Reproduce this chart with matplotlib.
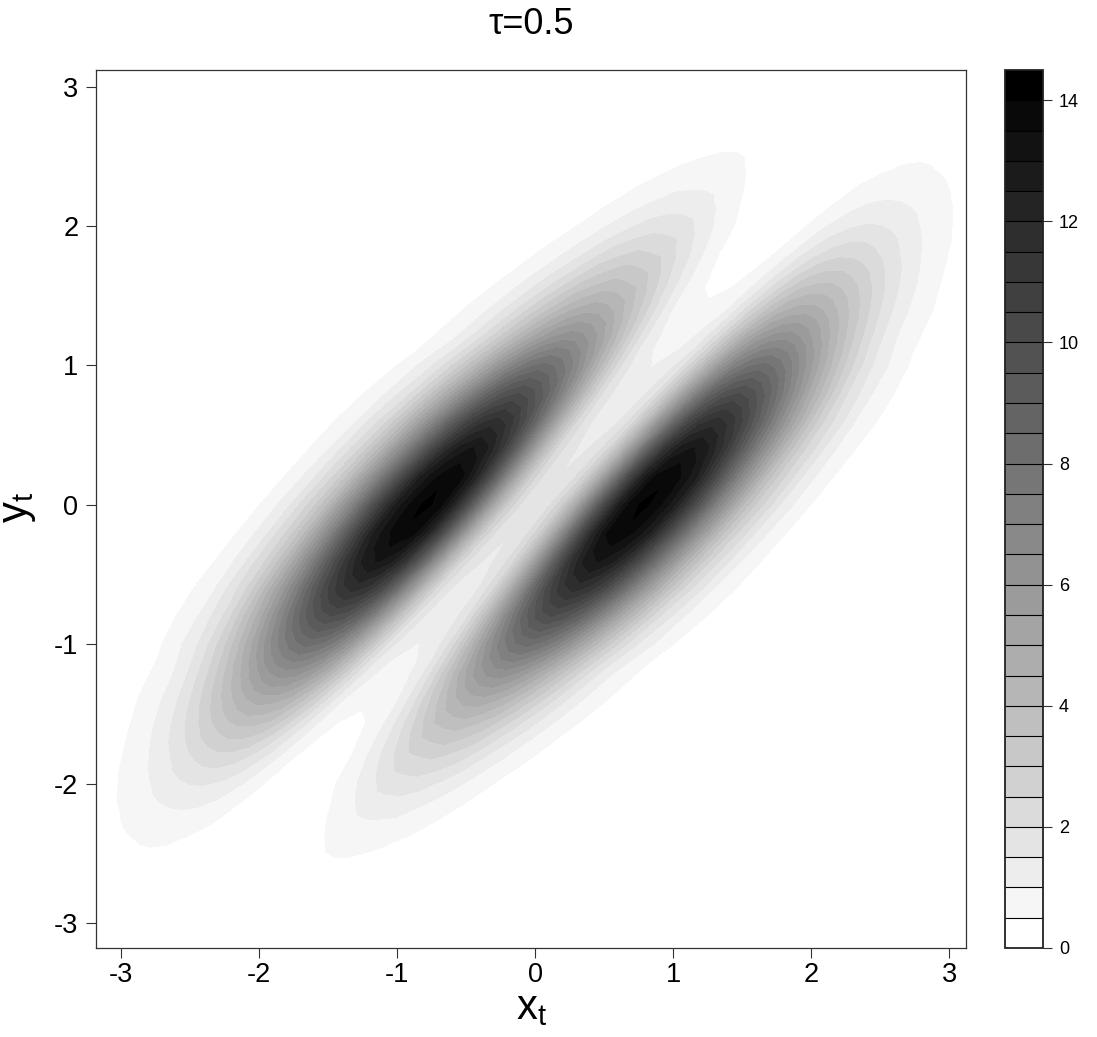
import numpy as np
import matplotlib
matplotlib.use("Agg")
import matplotlib.pyplot as plt

plt.rcParams['font.family'] = ['Liberation Sans', 'DejaVu Sans']
plt.rcParams['mathtext.fontset'] = 'custom'
plt.rcParams['mathtext.rm'] = 'Liberation Sans'
plt.rcParams['mathtext.it'] = 'Liberation Sans'

# Values read along slanted rows: y_rows is the height of a row, offsets is the
# horizontal distance from the valley between the two lobes
y_rows = [-2.8, -2.6, -2.4, -2.2, -2.0, -1.8, -1.6, -1.4, -1.2, -1.0, -0.8, -0.6, -0.4, -0.2, 0.0,
          0.2, 0.4, 0.6, 0.8, 1.0, 1.2, 1.4, 1.6, 1.8, 2.0, 2.2, 2.4, 2.6, 2.8]
offsets = [-2.4, -2.2, -2.0, -1.8, -1.6, -1.5, -1.4, -1.3, -1.2, -1.1, -1.0, -0.9, -0.8, -0.7, -0.6, -0.5,
           -0.4, -0.3, -0.2, -0.1, 0.0, 0.1, 0.2, 0.3, 0.4, 0.5, 0.6, 0.7, 0.8, 0.9, 1.0, 1.1, 1.2, 1.3,
           1.4, 1.5, 1.6, 1.8, 2.0, 2.2, 2.4]
# rows for y = 0 up to 2.8, the picture repeats them turned by 180 degrees below y = 0
upper_rows = [
    [.05, .16, .48, 1.27, 2.9, 4.05, 5.7, 7.3, 9.3, 11.1, 12.7, 13.6, 14.1, 13.9, 12.4, 10.2, 7.6, 5.0, 3.0, 1.9, 1.6,
     1.9, 3.0, 5.0, 7.6, 10.2, 12.4, 13.9, 14.1, 13.6, 12.7, 11.1, 9.3, 7.3, 5.7, 4.05, 2.9, 1.27, .48, .16, .05],
    [.05, .15, .46, 1.22, 2.8, 3.95, 5.5, 7.15, 9.0, 10.85, 12.5, 13.4, 13.9, 13.6, 12.2, 10.0, 7.4, 4.85, 2.85, 1.8, 1.52,
     1.8, 2.85, 4.85, 7.4, 10.0, 12.2, 13.6, 13.9, 13.4, 12.5, 10.85, 9.0, 7.15, 5.5, 3.95, 2.8, 1.22, .46, .15, .05],
    [.04, .14, .43, 1.14, 2.6, 3.7, 5.1, 6.7, 8.4, 10.1, 11.6, 12.65, 13.07, 12.65, 11.4, 9.35, 6.9, 4.5, 2.6, 1.65, 1.4,
     1.65, 2.6, 4.5, 6.9, 9.35, 11.4, 12.65, 13.07, 12.65, 11.6, 10.1, 8.4, 6.7, 5.1, 3.7, 2.6, 1.14, .43, .14, .04],
    [.04, .13, .39, 1.02, 2.3, 3.3, 4.6, 6.0, 7.5, 9.05, 10.4, 11.3, 11.7, 11.3, 10.2, 8.4, 6.2, 4.0, 2.3, 1.5, 1.3,
     1.5, 2.3, 4.0, 6.2, 8.4, 10.2, 11.3, 11.7, 11.3, 10.4, 9.05, 7.5, 6.0, 4.6, 3.3, 2.3, 1.02, .39, .13, .04],
    [.03, .1, .3, .8, 1.86, 2.7, 3.8, 4.95, 6.3, 7.63, 8.8, 9.63, 10.0, 9.68, 8.75, 7.25, 5.4, 3.5, 2.05, 1.35, 1.15,
     1.35, 2.05, 3.5, 5.4, 7.25, 8.75, 9.68, 10.0, 9.63, 8.8, 7.63, 6.3, 4.95, 3.8, 2.7, 1.86, .8, .3, .1, .03],
    [.02, .07, .22, .6, 1.45, 2.1, 2.9, 3.9, 5.0, 6.1, 7.1, 7.8, 8.15, 7.9, 7.2, 6.0, 4.44, 2.9, 1.7, 1.15, .98,
     1.15, 1.7, 2.9, 4.44, 6.0, 7.2, 7.9, 8.15, 7.8, 7.1, 6.1, 5.0, 3.9, 2.9, 2.1, 1.45, .6, .22, .07, .02],
    [.01, .04, .14, .4, .99, 1.46, 2.1, 2.85, 3.7, 4.58, 5.37, 6.0, 6.33, 6.23, 5.7, 4.77, 3.56, 2.3, 1.35, .9, .75,
     .9, 1.35, 2.3, 3.56, 4.77, 5.7, 6.23, 6.33, 6.0, 5.37, 4.58, 3.7, 2.85, 2.1, 1.46, .99, .4, .14, .04, .01],
    [.01, .03, .1, .3, .76, 1.12, 1.6, 2.15, 2.8, 3.45, 4.1, 4.55, 4.8, 4.72, 4.35, 3.6, 2.7, 1.75, 1.0, .65, .55,
     .65, 1.0, 1.75, 2.7, 3.6, 4.33, 4.67, 4.71, 4.45, 3.97, 3.36, 2.7, 2.05, 1.5, 1.05, .69, .27, .09, .03, .01],
    [0, .02, .07, .21, .55, .82, 1.15, 1.6, 2.05, 2.55, 3.05, 3.35, 3.6, 3.5, 3.3, 2.7, 2.0, 1.3, .72, .46, .42,
     .46, .72, 1.28, 2.0, 2.66, 3.2, 3.41, 3.41, 3.18, 2.82, 2.35, 1.87, 1.4, 1.02, .69, .45, .17, .05, .02, 0],
    [0, .01, .04, .13, .36, .55, .78, 1.08, 1.42, 1.8, 2.2, 2.42, 2.6, 2.52, 2.4, 1.95, 1.45, .92, .5, .3, .25,
     .3, .5, .9, 1.42, 1.86, 2.19, 2.35, 2.32, 2.14, 1.87, 1.53, 1.19, .88, .62, .41, .27, .09, .03, .01, 0],
    [0, 0, .02, .07, .22, .34, .5, .72, .95, 1.2, 1.45, 1.65, 1.78, 1.75, 1.65, 1.32, .95, .6, .36, .15, .1,
     .15, .32, .6, .95, 1.25, 1.45, 1.54, 1.51, 1.38, 1.19, .96, .74, .53, .37, .24, .15, .05, .01, 0, 0],
    [0, 0, .01, .04, .13, .2, .3, .44, .6, .76, .92, 1.1, 1.12, 1.12, 1.05, .8, .55, .33, .12, .04, .02,
     .05, .2, .39, .61, .79, .92, .96, .92, .83, .7, .55, .41, .29, .19, .12, .08, .02, 0, 0, 0],
    [0, 0, 0, .02, .07, .12, .18, .27, .36, .46, .56, .62, .68, .68, .62, .47, .32, .2, .08, .02, .01,
     .03, .13, .25, .38, .47, .55, .57, .54, .47, .38, .3, .21, .14, .09, .05, .03, .01, 0, 0, 0],
    [0, 0, 0, 0, .03, .05, .08, .13, .18, .24, .3, .36, .4, .4, .36, .27, .18, .11, .05, .01, 0,
     .02, .08, .14, .22, .27, .31, .32, .3, .26, .2, .15, .1, .07, .04, .02, .01, 0, 0, 0, 0],
    [0, 0, 0, 0, .01, .02, .04, .07, .1, .13, .17, .21, .23, .23, .2, .15, .1, .06, .03, .01, 0,
     .01, .04, .08, .12, .15, .17, .17, .16, .14, .1, .08, .05, .03, .02, .01, 0, 0, 0, 0, 0],
]
ticks_main = [-3, -2, -1, 0, 1, 2, 3]
ticks_bar = [0, 2, 4, 6, 8, 10, 12, 14]
title = '\u03c4=0.5'

valley_slope = 0.85  # the rows of the table are shifted along the valley
levels = np.arange(0, 14.51, 0.5)
shades = [str(g) for g in np.linspace(1, 0, len(levels) - 1)]

W, H = 1097, 1037
fig = plt.figure(figsize=(W / 100, H / 100), dpi=100)


def px_axes(left, top, right, bottom):
    return fig.add_axes([left / W, 1 - bottom / H, (right - left) / W, (bottom - top) / H])


ax = px_axes(96, 70, 966, 948)
cax = px_axes(1005, 70, 1043, 948)

upper = np.array(upper_rows)
density = np.vstack([upper[:0:-1, ::-1], upper])
off, yy = np.meshgrid(offsets, y_rows)
cs = ax.contourf(off + valley_slope * yy, yy, density, levels=levels, colors=shades)
ax.set_xlim(-3.18, 3.12)
ax.set_ylim(-3.18, 3.12)
ax.set_xticks(ticks_main)
ax.set_yticks(ticks_main)
ax.set_xticklabels([str(t) for t in ticks_main])
ax.set_yticklabels([str(t) for t in ticks_main])
ax.tick_params(length=7.2, width=0.8, labelsize=19.5, color='#333333')
ax.tick_params(axis='y', pad=5.5)
ax.tick_params(axis='x', pad=3)
for s in ax.spines.values():
    s.set_linewidth(0.9)
    s.set_color('#333333')

cb = fig.colorbar(cs, cax=cax, drawedges=True)
cb.set_ticks(ticks_bar)
cb.set_ticklabels([str(t) for t in ticks_bar])
cb.ax.tick_params(length=6.5, width=0.8, labelsize=13, pad=5, color='#333333')
cb.ax.minorticks_off()
cb.dividers.set_color('black')
cb.dividers.set_linewidth(0.8)
cb.outline.set_linewidth(1.3)
cb.outline.set_edgecolor('#222222')

fig.text(531 / W, 1 - 24 / H, title, fontsize=26, ha='center', va='center')
fig.text(532 / W, 1 - 1008 / H, r'$\mathrm{x_t}$', fontsize=30, ha='center', va='center')
fig.text(18 / W, 1 - 507 / H, r'$\mathrm{y_t}$', fontsize=30, ha='center', va='center', rotation=90)

fig.savefig('out.png', dpi=100)
